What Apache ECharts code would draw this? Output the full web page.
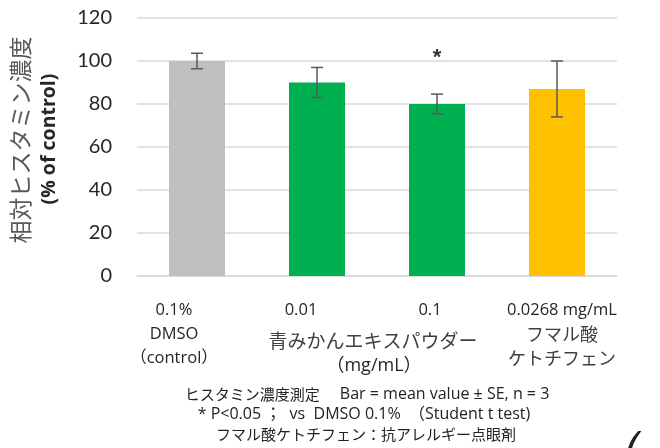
<!DOCTYPE html>
<html><head><meta charset="utf-8">
<script src="https://cdn.jsdelivr.net/npm/echarts@6/dist/echarts.min.js"></script>
<style>html,body{margin:0;padding:0;background:#fff}#c{width:660px;height:448px}</style>
</head><body><div id="c"></div>
<script>
// ---- data ----
const categories = ['0.1%\nDMSO\n（control）', '0.01', '0.1', '0.0268 mg/mL\nフマル酸\nケトチフェン'];
const meanValues = [100, 90, 80, 87];
const seValues = [3.6, 7, 4.6, 13];
const significance = ['', '', '*', ''];
const barColors = ['#bfbfbf', '#00b050', '#00b050', '#ffc000'];
const yMin = 0, yMax = 120, yInterval = 20;
const yAxisTitle = '相対ヒスタミン濃度';
const yAxisUnit = '(% of control)';
const groupLabel = '青みかんエキスパウダー';
const groupUnit = '（mg/mL）';
const footnoteTitle = 'ヒスタミン濃度測定';
const footnotes = [
  '　 Bar = mean value ± SE, n = 3',
  '* P<0.05 ；  vs  DMSO 0.1%  （Student t test)',
  'フマル酸ケトチフェン：抗アレルギー点眼剤'
];

const LAT = '"Open Sans", "Noto Sans CJK JP", sans-serif';
const TICK = 'Lato, sans-serif';
const JP = '"Noto Sans CJK JP", sans-serif';
const labelShift = [-23, -16, -7, 5];

const rich = {};
categories.forEach((c, i) => {
  const s = labelShift[i];
  const pad = s < 0 ? [0, -2 * s, 0, 0] : [0, 0, 0, 2 * s];
  rich['l' + i] = {fontFamily: LAT, fontSize: 16.5, color: '#262626', lineHeight: 24, padding: pad};
  rich['j' + i] = {fontFamily: JP, fontSize: 18, color: '#404040', lineHeight: 24, padding: pad};
});

const chart = echarts.init(document.getElementById('c'), null, {renderer: 'canvas'});
chart.setOption({
  animation: false,
  backgroundColor: '#fff',
  grid: {left: 137, right: 43, top: 18, bottom: 172, containLabel: false},
  xAxis: {
    type: 'category',
    data: categories,
    axisLine: {lineStyle: {color: '#d9d9d9', width: 1.5}},
    axisTick: {show: false},
    axisLabel: {
      margin: 22,
      interval: 0,
      formatter: (v, idx) => v.split('\n').map(line =>
        `{${/[\u3040-\u30ff\u4e00-\u9fff]/.test(line) ? 'j' : 'l'}${idx}|${line}}`).join('\n'),
      rich: rich
    }
  },
  yAxis: {
    type: 'value', min: yMin, max: yMax, interval: yInterval,
    axisLine: {show: false}, axisTick: {show: false},
    axisLabel: {margin: 25, fontSize: 20, fontFamily: TICK, color: '#262626'},
    splitLine: {lineStyle: {color: '#d9d9d9', width: 1.5}}
  },
  series: [
    {
      type: 'bar',
      data: meanValues.map((v, i) => ({value: v, itemStyle: {color: barColors[i]}})),
      barWidth: 56
    },
    {
      type: 'custom',
      data: meanValues.map((v, i) => [i, v, seValues[i]]),
      encode: {x: 0, y: 1},
      z: 10,
      renderItem: (params, api) => {
        const i = api.value(0), m = api.value(1), se = api.value(2);
        const top = api.coord([i, m + se]);
        const bot = api.coord([i, m - se]);
        const x = top[0], w = 6;
        const st = {stroke: '#595959', lineWidth: 1.5};
        const children = [
          {type: 'line', shape: {x1: x, y1: top[1], x2: x, y2: bot[1]}, style: st},
          {type: 'line', shape: {x1: x - w, y1: top[1], x2: x + w, y2: top[1]}, style: st},
          {type: 'line', shape: {x1: x - w, y1: bot[1], x2: x + w, y2: bot[1]}, style: st}
        ];
        const sig = significance[params.dataIndex];
        if (sig) {
          children.push({type: 'text', x: x, y: top[1] - 36,
            style: {text: sig, fontSize: 22, fontWeight: 'bold', fontFamily: 'Liberation Sans', fill: '#333',
              textAlign: 'center', textVerticalAlign: 'middle'}});
        }
        return {type: 'group', children};
      }
    }
  ],
  graphic: [
    {type: 'text', x: 20, y: 140, rotation: Math.PI / 2,
      style: {text: yAxisTitle, fontSize: 23, fontFamily: JP, fill: '#595959', textAlign: 'center', textVerticalAlign: 'middle'}},
    {type: 'text', x: 49, y: 139, rotation: Math.PI / 2,
      style: {text: yAxisUnit, fontSize: 19.5, fontWeight: 'bold', fontFamily: LAT, fill: '#262626', textAlign: 'center', textVerticalAlign: 'middle'}},
    {type: 'text', x: 373, y: 341,
      style: {text: groupLabel, fontSize: 19, fontFamily: JP, fill: '#404040', textAlign: 'center', textVerticalAlign: 'middle'}},
    {type: 'text', x: 374, y: 366,
      style: {text: groupUnit, fontSize: 18, fontFamily: LAT, fill: '#262626', textAlign: 'center', textVerticalAlign: 'middle'}},
    {type: 'text', x: 367, y: 394,
      style: {text: `{j|${footnoteTitle}}{l|${footnotes[0]}}`, textAlign: 'center', textVerticalAlign: 'middle',
        rich: {j: {fontSize: 15, fontFamily: JP, fill: '#222'}, l: {fontSize: 16, fontFamily: LAT, fill: '#222'}}}},
    {type: 'text', x: 364, y: 414,
      style: {text: footnotes[1], fontSize: 16, fontFamily: LAT, fill: '#222', textAlign: 'center', textVerticalAlign: 'middle'}},
    {type: 'text', x: 366, y: 434,
      style: {text: footnotes[2], fontSize: 15, fontFamily: JP, fill: '#222', textAlign: 'center', textVerticalAlign: 'middle'}},
    {type: 'text', x: 632, y: 432,
      style: {text: '(', fontSize: 40, fontFamily: 'DejaVu Sans', fontStyle: 'italic', fill: '#222', textAlign: 'center', textVerticalAlign: 'top'}}
  ]
});
</script></body></html>
